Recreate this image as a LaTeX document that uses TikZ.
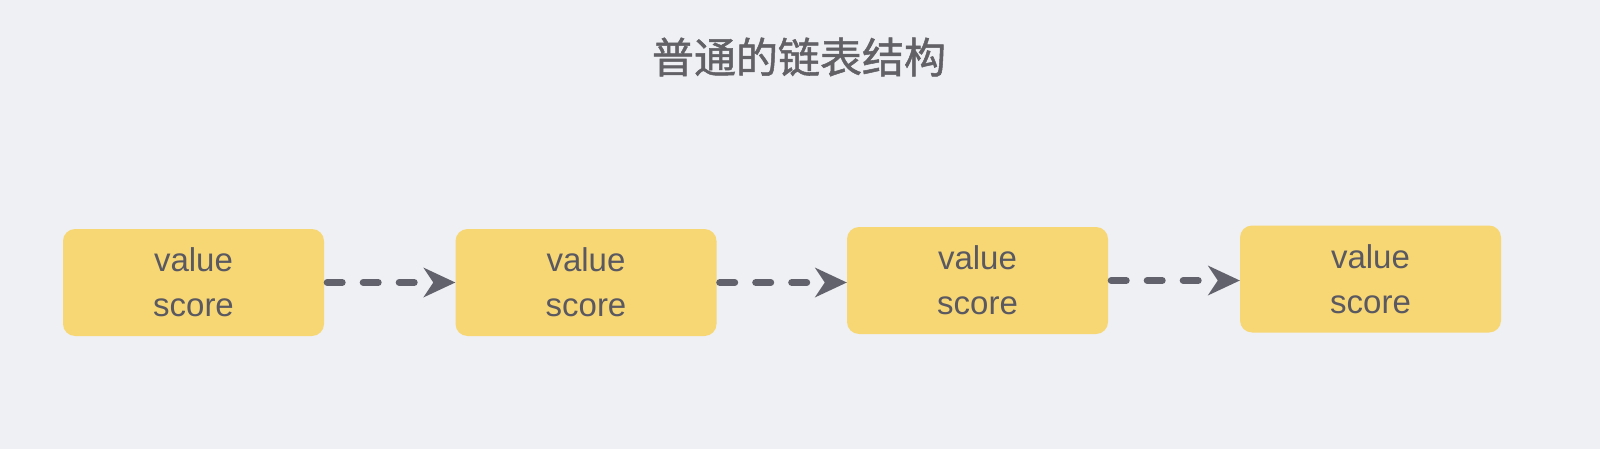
\documentclass[tikz,border=0pt]{standalone}
\usepackage{fontspec}
\setmainfont{Liberation Sans}
\newfontfamily\cjk[FakeBold=1.2]{Noto Sans CJK SC}
\usetikzlibrary{arrows.meta}
\definecolor{bg}{HTML}{EFF0F4}
\definecolor{boxfill}{HTML}{F7D774}
\definecolor{txt}{HTML}{5A5962}
\definecolor{arr}{HTML}{62626C}
\definecolor{ttl}{HTML}{626266}
\begin{document}
\begin{tikzpicture}[x=1pt,y=-1pt,
  listbox/.style={fill=boxfill,rounded corners=12pt,minimum width=261pt,minimum height=107pt,inner sep=0pt,
    text=txt,font=\fontsize{33}{45}\selectfont,align=center},
  link/.style={draw=arr,line width=7pt,line cap=round,dash pattern=on 15pt off 21pt,shorten <=3pt,
    -{Stealth[length=32pt,width=30pt,inset=10pt,line width=0pt,round]}}]
\useasboundingbox[fill=bg] (0,0) rectangle (1600,449);
\node[text=ttl,font=\cjk\fontsize{42}{48}\selectfont] (title) at (799,57) {普通的链表结构};
\node[listbox] (n1) at (193.5,282.5) {value\\score};
\node[listbox] (n2) at (586,282.5) {value\\score};
\node[listbox] (n3) at (977.5,280.5) {value\\score};
\node[listbox] (n4) at (1370.5,279) {value\\score};
\draw[link] (n1.east) -- (n1.east -| n2.west);
\draw[link] (n2.east) -- (n2.east -| n3.west);
\draw[link] (n3.east) -- (n3.east -| n4.west);
\end{tikzpicture}
\end{document}
